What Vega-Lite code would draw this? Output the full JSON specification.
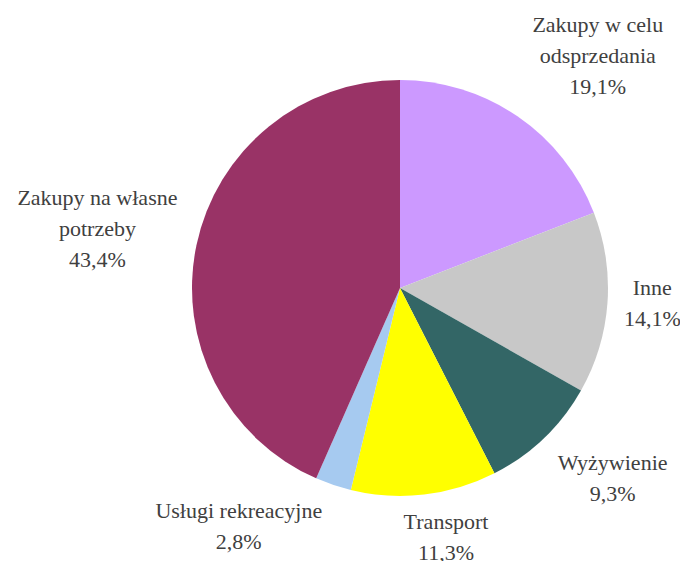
{
  "$schema": "https://vega.github.io/schema/vega-lite/v6.json",
  "autosize": "none",
  "width": 560,
  "height": 560,
  "padding": {"left": 120, "top": 8, "right": 0, "bottom": 0},
  "background": "white",
  "view": {"stroke": null},
  "data": {
    "values": [
      {"cat": "Zakupy w celu odsprzedania", "value": 19.1, "order": 1, "label": "Zakupy w celu\nodsprzedania\n19,1%"},
      {"cat": "Inne", "value": 14.1, "order": 2, "label": "Inne\n14,1%"},
      {"cat": "Wyżywienie", "value": 9.3, "order": 3, "label": "Wyżywienie\n9,3%"},
      {"cat": "Transport", "value": 11.3, "order": 4, "label": "Transport\n11,3%"},
      {"cat": "Usługi rekreacyjne", "value": 2.8, "order": 5, "label": "Usługi rekreacyjne\n2,8%"},
      {"cat": "Zakupy na własne potrzeby", "value": 43.4, "order": 6, "label": "Zakupy na własne\npotrzeby\n43,4%"}
    ]
  },
  "encoding": {
    "theta": {"field": "value", "type": "quantitative", "stack": true},
    "order": {"field": "order", "type": "quantitative"}
  },
  "layer": [
    {
      "mark": {"type": "arc", "outerRadius": 208},
      "encoding": {
        "color": {
          "field": "cat",
          "type": "nominal",
          "scale": {
            "domain": ["Zakupy w celu odsprzedania", "Inne", "Wyżywienie", "Transport", "Usługi rekreacyjne", "Zakupy na własne potrzeby"],
            "range": ["#CC99FF", "#C8C8C8", "#336666", "#FFFF00", "#A6CAF0", "#993366"]
          },
          "legend": null
        }
      }
    },
    {
      "mark": {"type": "text", "radius": 290, "dx": 34, "dy": -24, "font": "Liberation Serif", "fontSize": 22, "lineBreak": "\n", "lineHeight": 31, "color": "#404040", "align": "center", "baseline": "middle"},
      "encoding": {"text": {"condition": {"test": "datum.order == 1", "field": "label"}, "value": ""}}
    },
    {
      "mark": {"type": "text", "radius": 253, "dx": 0, "dy": -18.5, "font": "Liberation Serif", "fontSize": 22, "lineBreak": "\n", "lineHeight": 31, "color": "#404040", "align": "center", "baseline": "middle"},
      "encoding": {"text": {"condition": {"test": "datum.order == 2", "field": "label"}, "value": ""}}
    },
    {
      "mark": {"type": "text", "radius": 280, "dx": 19, "dy": -27.5, "font": "Liberation Serif", "fontSize": 22, "lineBreak": "\n", "lineHeight": 31, "color": "#404040", "align": "center", "baseline": "middle"},
      "encoding": {"text": {"condition": {"test": "datum.order == 3", "field": "label"}, "value": ""}}
    },
    {
      "mark": {"type": "text", "radius": 250, "dx": 17, "dy": -14.5, "font": "Liberation Serif", "fontSize": 22, "lineBreak": "\n", "lineHeight": 31, "color": "#404040", "align": "center", "baseline": "middle"},
      "encoding": {"text": {"condition": {"test": "datum.order == 4", "field": "label"}, "value": ""}}
    },
    {
      "mark": {"type": "text", "radius": 250, "dx": -81, "dy": -13.5, "font": "Liberation Serif", "fontSize": 22, "lineBreak": "\n", "lineHeight": 31, "color": "#404040", "align": "center", "baseline": "middle"},
      "encoding": {"text": {"condition": {"test": "datum.order == 5", "field": "label"}, "value": ""}}
    },
    {
      "mark": {"type": "text", "radius": 300, "dx": -9, "dy": -28, "font": "Liberation Serif", "fontSize": 22, "lineBreak": "\n", "lineHeight": 31, "color": "#404040", "align": "center", "baseline": "middle"},
      "encoding": {"text": {"condition": {"test": "datum.order == 6", "field": "label"}, "value": ""}}
    }
  ]
}
